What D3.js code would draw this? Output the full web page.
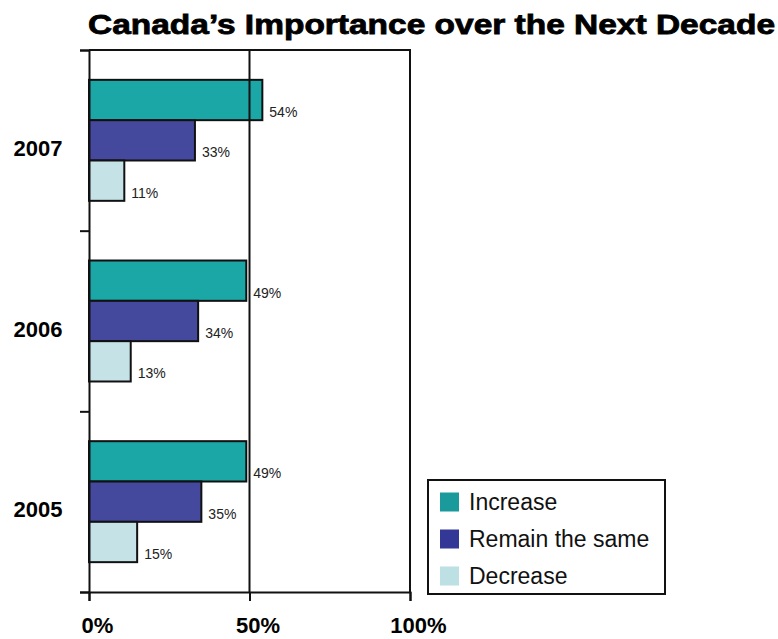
<!DOCTYPE html>
<html>
<head>
<meta charset="utf-8">
<script src="https://cdn.jsdelivr.net/npm/d3@7"></script>
<style>
  html, body { margin: 0; padding: 0; background: #fff; }
  svg { display: block; }
</style>
</head>
<body>
<svg id="chart" width="778" height="639"></svg>
<script>
// Survey results by year
const years = ["2007", "2006", "2005"];
const series = ["Increase", "Remain the same", "Decrease"];
const increase = [54, 49, 49];
const remain = [33, 34, 35];
const decrease = [11, 13, 15];
const xTicks = [0, 50, 100];
const xTickLabels = ["0%", "50%", "100%"];

const barColors = ["#1BA7A6", "#45499E", "#C5E3E6"];
const legendColors = ["#1A9A9A", "#333796", "#BDE0E4"];

const values = [increase, remain, decrease];

const svg = d3.select("#chart");
const font = "'Liberation Sans', Arial, Helvetica, sans-serif";

const plot = { left: 89, right: 410, top: 50, bottom: 592 };

const x = d3.scaleLinear().domain([0, 100]).range([plot.left, plot.right]);
const y = d3.scaleBand().domain(years).range([plot.top, plot.bottom]).padding(0);
const ySub = d3.scaleBand().domain(series).range([0, y.bandwidth()])
  .paddingInner(0).paddingOuter(0.74);

// Title
svg.append("text")
  .attr("x", 88).attr("y", 34)
  .attr("textLength", 687).attr("lengthAdjust", "spacingAndGlyphs")
  .style("font-family", font).style("font-weight", "bold").style("font-size", "27px")
  .style("stroke", "#000").style("stroke-width", "0.8px")
  .text("Canada\u2019s Importance over the Next Decade");

// Bars
years.forEach((yr, i) => {
  const g = svg.append("g").attr("transform", `translate(0,${y(yr)})`);
  series.forEach((s, j) => {
    const v = values[j][i];
    g.append("rect")
      .attr("x", x(0))
      .attr("y", ySub(s))
      .attr("width", x(v) - x(0))
      .attr("height", ySub.bandwidth())
      .attr("fill", barColors[j])
      .attr("stroke", "#111").attr("stroke-width", 2);
    g.append("text")
      .attr("x", x(v) + 7)
      .attr("y", ySub(s) + ySub.bandwidth() - 3)
      .style("font-family", font).style("font-size", "14px").attr("fill", "#222")
      .text(v + "%");
  });
  // year label
  svg.append("text")
    .attr("x", 38).attr("y", y(yr) + y.bandwidth() / 2 + 8)
    .attr("text-anchor", "middle").attr("dominant-baseline", "central")
    .style("font-family", font).style("font-weight", "bold").style("font-size", "22px")
    .text(yr);
});

// 50% gridline
svg.append("line")
  .attr("x1", x(50)).attr("x2", x(50)).attr("y1", plot.top).attr("y2", plot.bottom)
  .attr("stroke", "#111").attr("stroke-width", 2);

// Frame: top and right edges
svg.append("path")
  .attr("d", `M${x(0)},${plot.top}H${x(100)}V${plot.bottom}`)
  .attr("fill", "none").attr("stroke", "#111").attr("stroke-width", 2);

// Y axis (category boundaries as ticks)
const yAxis = d3.axisLeft(d3.scaleLinear().domain([0, years.length]).range([plot.top, plot.bottom]))
  .tickValues(d3.range(years.length + 1)).tickSize(9).tickFormat("");
const gy = svg.append("g").attr("transform", `translate(${plot.left},0)`).call(yAxis);
gy.select(".domain").attr("stroke", "#111").attr("stroke-width", 2);
gy.selectAll(".tick line").attr("stroke", "#111").attr("stroke-width", 2);

// X axis
const xAxis = d3.axisBottom(x).tickValues(xTicks).tickSize(9)
  .tickFormat((d, i) => xTickLabels[i]);
const gx = svg.append("g").attr("transform", `translate(0,${plot.bottom})`).call(xAxis);
gx.select(".domain").attr("stroke", "#111").attr("stroke-width", 2);
gx.selectAll(".tick line").attr("stroke", "#111").attr("stroke-width", 2);
gx.selectAll(".tick text")
  .attr("x", 8).attr("y", 41).attr("dy", "0")
  .style("font-family", font).style("font-weight", "bold").style("font-size", "22px")
  .attr("fill", "#000");

// Legend
const legend = svg.append("g").attr("transform", "translate(428,480)");
legend.append("rect").attr("width", 237).attr("height", 114)
  .attr("fill", "#fff").attr("stroke", "#111").attr("stroke-width", 2);
series.forEach((s, j) => {
  const row = legend.append("g").attr("transform", `translate(12,${22 + j * 37})`);
  row.append("rect").attr("x", 0).attr("y", -9.5).attr("width", 19).attr("height", 19)
    .attr("fill", legendColors[j]);
  row.append("text").attr("x", 29).attr("y", 0).attr("dominant-baseline", "central")
    .style("font-family", font).style("font-size", "23px").attr("fill", "#111")
    .text(s);
});
</script>
</body>
</html>
